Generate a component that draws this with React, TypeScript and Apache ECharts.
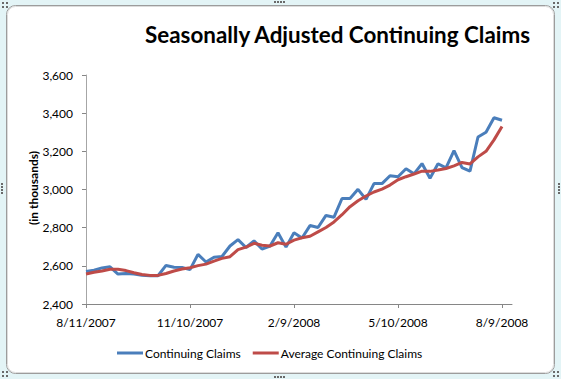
import React, { useEffect, useRef } from "react";
import * as echarts from "echarts";

// Weekly data, week index 0 = 8/11/2007
const continuingClaims = [
  2570, 2577, 2589, 2595, 2557, 2560, 2557, 2550, 2548, 2548,
  2602, 2593, 2591, 2580, 2660, 2620, 2645, 2649, 2704, 2737,
  2696, 2731, 2688, 2704, 2773, 2698, 2773, 2746, 2811, 2801,
  2864, 2855, 2953, 2953, 3001, 2948, 3031, 3031, 3072, 3067,
  3109, 3082, 3136, 3059, 3135, 3113, 3204, 3115, 3096, 3275,
  3300, 3376, 3363,
];
const averageClaims = [
  2557, 2566, 2573, 2582, 2582, 2575, 2564, 2555, 2550, 2550,
  2560, 2573, 2583, 2590, 2601, 2609, 2625, 2639, 2648, 2685,
  2698, 2718, 2708, 2704, 2721, 2713, 2735, 2747, 2755, 2778,
  2801, 2830, 2868, 2910, 2941, 2966, 2987, 3002, 3023, 3051,
  3067, 3081, 3096, 3095, 3102, 3110, 3124, 3142, 3134, 3171,
  3200, 3260, 3330,
];
const tickWeeks = [0, 13, 26, 39, 52];
const tickLabels = ["8/11/2007", "11/10/2007", "2/9/2008", "5/10/2008", "8/9/2008"];
const seriesNames = ["Continuing Claims", "Average Continuing Claims"];

const FONT = "Lato, 'Liberation Sans', sans-serif";

function dots(xs: number[], ys: number[]) {
  const out: any[] = [];
  xs.forEach((x) =>
    ys.forEach((y) =>
      out.push({ type: "rect", shape: { x, y, width: 2, height: 2 }, style: { fill: "#6a6a6a" }, z: 10 })
    )
  );
  return out;
}

export default function App() {
  const ref = useRef<HTMLDivElement>(null);
  useEffect(() => {
    const chart = echarts.init(ref.current!, null, { renderer: "svg" });
    chart.setOption({
      animation: false,
      backgroundColor: "#e3f4f6",
      title: {
        text: "Seasonally Adjusted Continuing Claims",
        left: 145,
        top: 23,
        padding: 0,
        textStyle: { fontFamily: FONT, fontWeight: "bold", fontSize: 22.4, color: "#000" },
      },
      graphic: [
        {
          type: "rect",
          shape: { x: 6.5, y: 5.5, width: 548, height: 368, r: 9 },
          style: { fill: "#ffffff", stroke: "#9c9c9c", lineWidth: 1 },
          z: -10,
          silent: true,
        },
        {
          type: "rect",
          shape: { x: 7.5, y: 6.5, width: 546, height: 366, r: 8 },
          style: { fill: "none", stroke: "#dcdcdc", lineWidth: 1 },
          z: -9,
          silent: true,
        },
        ...dots([2, 6], [2, 6]),
        ...dots([553, 557], [2, 6]),
        ...dots([2, 6], [371, 375]),
        ...dots([553, 557], [371, 375]),
        ...dots([274, 277, 280, 283], [1]),
        ...dots([274, 277, 280, 283], [376]),
        ...dots([1], [183, 186, 189, 192]),
        ...dots([558], [183, 186, 189, 192]),
        {
          type: "text",
          x: 33,
          y: 188,
          rotation: Math.PI / 2,
          style: {
            text: "(in thousands)",
            fontFamily: FONT,
            fontWeight: "bold",
            fontSize: 12,
            fill: "#000",
            align: "center",
            verticalAlign: "middle",
          },
        },
      ],
      legend: {
        left: 117,
        top: 347,
        padding: 0,
        itemWidth: 26,
        itemHeight: 3,
        itemGap: 12,
        icon: "rect",
        textStyle: { fontFamily: FONT, fontSize: 12, color: "#000", padding: [0, 0, 0, -3] },
        data: seriesNames,
      },
      grid: { left: 86, top: 75, width: 426, height: 229, containLabel: false },
      xAxis: {
        type: "value",
        min: 0,
        max: 53.25,
        splitLine: { show: false },
        axisLine: { lineStyle: { color: "#868686", width: 1 } },
        axisTick: { show: true, length: 4, lineStyle: { color: "#868686" }, customValues: tickWeeks },
        axisLabel: {
          customValues: tickWeeks,
          margin: 12,
          fontFamily: FONT,
          fontSize: 12,
          color: "#000",
          formatter: (v: number) => {
            const i = tickWeeks.indexOf(Math.round(v));
            return i >= 0 ? tickLabels[i] : "";
          },
        },
      },
      yAxis: {
        type: "value",
        min: 2400,
        max: 3600,
        interval: 200,
        splitLine: { show: false },
        axisLine: { show: true, lineStyle: { color: "#a6a6a6", width: 1 } },
        axisTick: { show: true, length: 4, lineStyle: { color: "#868686" } },
        axisLabel: {
          margin: 13,
          fontFamily: FONT,
          fontSize: 12,
          color: "#000",
          formatter: (v: number) => v.toLocaleString("en-US"),
        },
      },
      series: [
        {
          name: seriesNames[0],
          type: "line",
          data: continuingClaims.map((v, i) => [i, v]),
          showSymbol: false,
          symbol: "none",
          lineStyle: { color: "#4a7ebb", width: 3 },
          itemStyle: { color: "#4a7ebb" },
          z: 2,
        },
        {
          name: seriesNames[1],
          type: "line",
          data: averageClaims.map((v, i) => [i, v]),
          showSymbol: false,
          symbol: "none",
          lineStyle: { color: "#be4b48", width: 3 },
          itemStyle: { color: "#be4b48" },
          z: 3,
        },
      ],
    });
    return () => chart.dispose();
  }, []);
  return (
    <div
      ref={ref}
      style={{ position: "fixed", left: 0, top: 0, width: 561, height: 379 }}
    />
  );
}
